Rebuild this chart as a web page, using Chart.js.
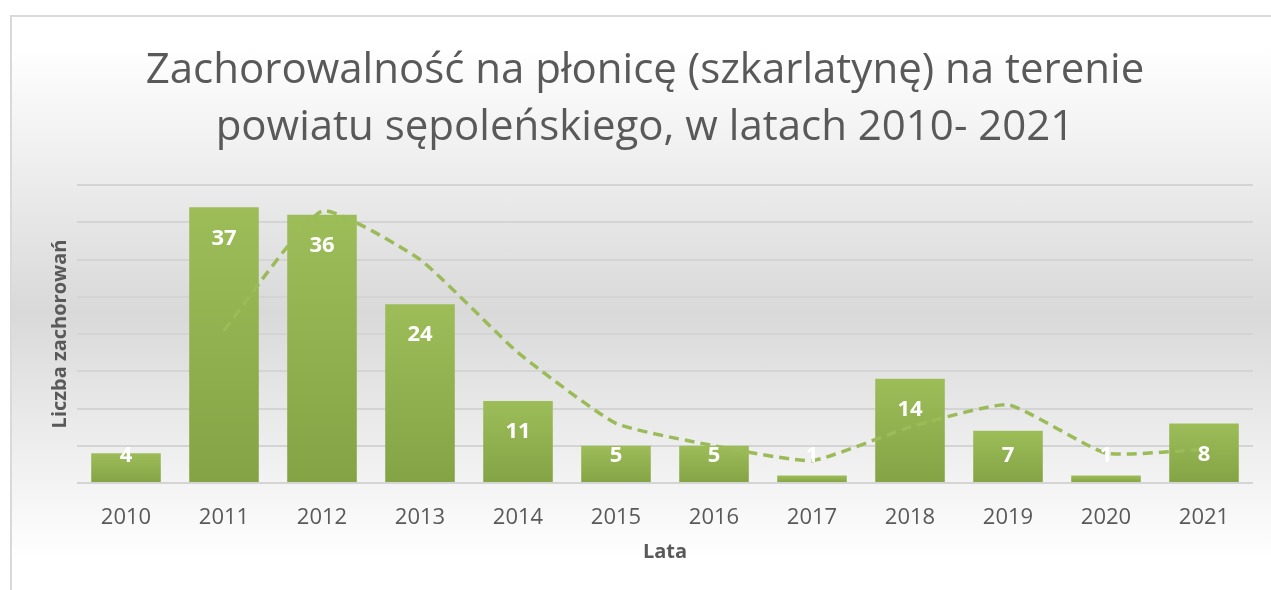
<!DOCTYPE html>
<html>
<head>
<meta charset="utf-8">
<script src="https://cdn.jsdelivr.net/npm/chart.js@4/dist/chart.umd.min.js"></script>
<style>
  body { margin: 0; width: 1271px; height: 590px; overflow: hidden; background: #fff; }
  #bg {
    position: absolute; left: 10px; top: 15px; width: 1275px; height: 590px;
    border-top: 2px solid #d9d9d9; border-left: 2px solid #d9d9d9;
    background: linear-gradient(to bottom, #ffffff 5%, #d9d9d9 50%, #ffffff 92%);
  }
  #wrap { position: absolute; left: 0; top: 0; width: 1271px; height: 590px; }
</style>
</head>
<body>
<div id="bg"></div>
<div id="wrap"><canvas id="myChart" width="1271" height="590"></canvas></div>
<script>
var years = ['2010', '2011', '2012', '2013', '2014', '2015', '2016', '2017', '2018', '2019', '2020', '2021'];
var cases = [4, 37, 36, 24, 11, 5, 5, 1, 14, 7, 1, 8];
// dashed trend line (2-year moving average)
var trend = [null, 20.5, 36.5, 30, 17.5, 8, 5, 3, 7.5, 10.5, 4, 4.5];
var titleLines = ['Zachorowalność na płonicę (szkarlatynę) na terenie', 'powiatu sępoleńskiego, w latach 2010- 2021'];

var barLabels = {
  id: 'barLabels',
  afterDatasetsDraw: function(chart) {
    var c = chart.ctx;
    var meta = chart.getDatasetMeta(1);
    c.save();
    c.fillStyle = '#ffffff';
    c.font = 'bold 22px "Open Sans"';
    c.textAlign = 'center';
    c.textBaseline = 'middle';
    meta.data.forEach(function(bar, i) {
      var y = Math.min(bar.y + 31, bar.base - 26);
      c.fillText(String(cases[i]), bar.x, y);
    });
    c.restore();
  }
};

var ctx = document.getElementById('myChart').getContext('2d');
var myChart = new Chart(ctx, {
  type: 'bar',
  data: {
    labels: years,
    datasets: [{
      type: 'line',
      data: trend,
      borderColor: '#9bbb59',
      borderWidth: 3.5,
      borderDash: [10, 6],
      pointRadius: 0,
      tension: 0.15,
      fill: false,
      order: 0
    }, {
      data: cases,
      backgroundColor: function(context) {
        var chart = context.chart;
        if (!chart.chartArea) return '#9bbb59';
        var ys = chart.scales.y;
        var top = ys.getPixelForValue(cases[context.dataIndex]);
        var bottom = ys.getPixelForValue(0);
        var g = chart.ctx.createLinearGradient(0, top, 0, bottom);
        g.addColorStop(0, '#9dbd59');
        g.addColorStop(1, '#84a345');
        return g;
      },
      barPercentage: 0.71,
      categoryPercentage: 1,
      order: 1
    }]
  },
  options: {
    responsive: false,
    animation: false,
    devicePixelRatio: 1,
    layout: { padding: { top: 43, left: 37, right: 18, bottom: 0 } },
    plugins: {
      legend: { display: false },
      tooltip: { enabled: false },
      title: {
        display: true,
        text: titleLines,
        color: '#595959',
        font: { family: 'Open Sans', size: 42, weight: 'normal', lineHeight: 57 / 42 },
        padding: { top: 0, bottom: 28 }
      }
    },
    scales: {
      x: {
        grid: { display: false },
        border: { display: false },
        ticks: { color: '#595959', font: { family: 'Open Sans', size: 22 }, padding: 14 },
        title: {
          display: true,
          text: 'Lata',
          color: '#595959',
          font: { family: 'Open Sans', size: 20, weight: 'bold' },
          padding: { top: 0, bottom: 26 }
        },
        afterFit: function(s) { s.height = 107; }
      },
      y: {
        min: 0,
        max: 40,
        ticks: { display: false, stepSize: 5 },
        grid: { color: '#d4d4d4', lineWidth: 2, drawTicks: false },
        border: { display: false },
        title: {
          display: true,
          text: 'Liczba zachorowań',
          color: '#595959',
          font: { family: 'Open Sans', size: 20, weight: 'bold' },
          padding: { top: 11, bottom: 0 }
        },
        afterFit: function(s) { s.width = 40; }
      }
    }
  },
  plugins: [barLabels]
});
</script>
</body>
</html>
